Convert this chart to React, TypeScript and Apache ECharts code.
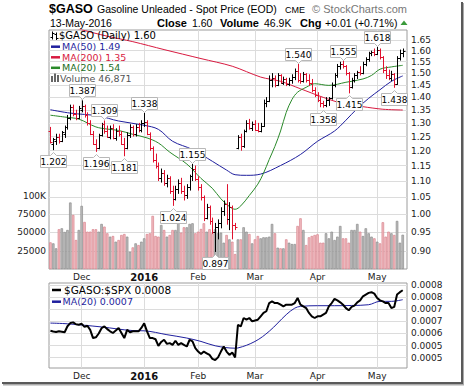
import React, { useEffect, useRef } from "react";
import * as echarts from "echarts";

// ---------- categories ----------
const HOLIDAYS = ["2015-11-26", "2015-12-25", "2016-01-01", "2016-01-18", "2016-02-15", "2016-03-25"];
function tradingDates(start: string, end: string): string[] {
  const out: string[] = [];
  const d = new Date(start + "T00:00:00Z");
  const e = new Date(end + "T00:00:00Z");
  while (d <= e) {
    const wd = d.getUTCDay();
    const s = d.toISOString().slice(0, 10);
    if (wd !== 0 && wd !== 6 && !HOLIDAYS.includes(s)) out.push(s);
    d.setUTCDate(d.getUTCDate() + 1);
  }
  return out;
}
const DATES = [...tradingDates("2015-11-13", "2016-05-13"), ""];
const MONTH_STARTS = ["2015-12-01", "2016-01-04", "2016-02-01", "2016-03-01", "2016-04-01", "2016-05-02"];
const MONTH_LABELS = ["Dec", "2016", "Feb", "Mar", "Apr", "May"];

// ---------- price (OHLC) ----------
const OPEN = [1.27,1.225,1.235,1.25,1.235,1.26,1.285,1.32,1.36,1.335,1.32,1.35,1.365,1.33,1.30,1.26,1.225,1.21,1.255,1.295,
  1.27,1.25,1.28,1.245,1.27,1.26,1.225,1.21,1.255,1.285,1.26,1.285,1.275,1.30,1.305,1.26,1.21,1.17,1.15,1.11,
  1.125,1.095,1.11,1.07,1.045,1.075,1.095,1.07,1.055,1.08,1.115,1.14,1.105,1.08,1.05,0.99,1.02,0.98,0.95,0.965,
  0.975,1.01,1.03,0.985,1.02,0.97,1.21,1.25,1.215,1.27,1.30,1.28,1.295,1.275,1.27,1.29,1.375,1.385,1.47,1.48,
  1.45,1.49,1.46,1.475,1.455,1.47,1.485,1.51,1.47,1.465,1.495,1.47,1.46,1.43,1.41,1.39,1.375,1.37,1.39,1.395,
  1.45,1.49,1.53,1.54,1.53,1.50,1.44,1.47,1.49,1.505,1.50,1.54,1.56,1.59,1.595,1.585,1.605,1.57,1.515,1.49,
  1.48,1.495,1.455,1.565,1.59];
const HIGH = [1.285,1.245,1.26,1.26,1.27,1.29,1.33,1.37,1.37,1.35,1.365,1.387,1.37,1.34,1.31,1.27,1.24,1.26,1.30,1.309,
  1.29,1.29,1.295,1.28,1.29,1.27,1.245,1.265,1.295,1.29,1.295,1.30,1.31,1.338,1.31,1.265,1.215,1.19,1.16,1.14,
  1.135,1.12,1.115,1.085,1.085,1.105,1.11,1.085,1.09,1.12,1.155,1.15,1.115,1.09,1.055,1.03,1.025,0.99,0.975,0.985,
  1.02,1.04,1.09,1.035,1.025,0.975,1.255,1.26,1.275,1.31,1.315,1.305,1.31,1.30,1.30,1.39,1.40,1.49,1.50,1.49,
  1.50,1.495,1.485,1.48,1.48,1.495,1.52,1.54,1.50,1.505,1.50,1.495,1.475,1.44,1.42,1.40,1.385,1.40,1.40,1.46,
  1.50,1.54,1.55,1.555,1.535,1.505,1.48,1.50,1.51,1.53,1.55,1.57,1.595,1.60,1.61,1.618,1.61,1.575,1.53,1.515,
  1.51,1.50,1.575,1.605,1.61];
const LOW = [1.225,1.202,1.22,1.225,1.23,1.245,1.275,1.31,1.325,1.31,1.315,1.34,1.32,1.29,1.255,1.22,1.196,1.205,1.25,1.26,
  1.245,1.24,1.24,1.235,1.25,1.22,1.181,1.205,1.245,1.25,1.25,1.265,1.265,1.285,1.255,1.20,1.16,1.14,1.10,1.095,
  1.085,1.08,1.06,1.024,1.04,1.06,1.06,1.04,1.045,1.07,1.10,1.10,1.07,1.04,0.98,0.985,0.97,0.945,0.897,0.93,
  0.96,0.995,0.97,0.955,0.93,0.955,1.205,1.20,1.21,1.265,1.275,1.27,1.27,1.265,1.265,1.285,1.36,1.38,1.44,1.44,
  1.445,1.455,1.45,1.445,1.445,1.455,1.47,1.46,1.455,1.46,1.46,1.445,1.42,1.40,1.38,1.36,1.358,1.36,1.365,1.39,
  1.44,1.48,1.515,1.52,1.49,1.415,1.435,1.46,1.475,1.49,1.495,1.53,1.55,1.575,1.575,1.58,1.56,1.50,1.475,1.47,
  1.465,1.438,1.45,1.555,1.57];
const CLOSE = [1.23,1.24,1.25,1.235,1.265,1.285,1.32,1.36,1.335,1.32,1.355,1.365,1.33,1.30,1.26,1.225,1.21,1.255,1.295,1.27,
  1.25,1.28,1.245,1.27,1.26,1.225,1.21,1.255,1.285,1.26,1.285,1.275,1.30,1.305,1.26,1.21,1.17,1.15,1.11,1.125,
  1.095,1.11,1.07,1.045,1.075,1.095,1.07,1.055,1.08,1.115,1.14,1.105,1.08,1.05,0.99,1.02,0.98,0.95,0.965,0.975,
  1.01,1.03,0.985,1.02,0.97,0.965,1.25,1.215,1.27,1.30,1.28,1.295,1.275,1.27,1.29,1.375,1.385,1.47,1.48,1.45,
  1.49,1.46,1.475,1.455,1.47,1.485,1.51,1.47,1.465,1.495,1.47,1.46,1.43,1.41,1.39,1.375,1.37,1.39,1.395,1.45,
  1.49,1.53,1.54,1.53,1.50,1.44,1.47,1.49,1.505,1.50,1.54,1.56,1.59,1.595,1.585,1.605,1.57,1.515,1.49,1.48,
  1.495,1.455,1.565,1.59,1.60];
const VOLUME = [36500,35100,28300,54400,55700,50700,53400,91000,74000,39700,
  53400,86400,64400,51100,51100,54400,54400,51100,61700,58000,
  48900,44300,45200,37400,39700,46600,47900,44300,23700,29600,
  35100,32800,37400,42000,47900,48900,72700,45200,44300,60300,
  53400,44300,46600,53400,53400,74000,49800,57100,57100,61700,
  62600,48900,51100,54800,62600,51100,54400,48900,54400,48900,
  49800,36000,46600,40600,37400,20500,40600,40600,57100,51100,
  47900,35100,40600,45200,42000,43400,43400,44300,61700,48900,
  29200,28300,28300,40600,36000,34200,34200,58900,69400,53400,
  32800,43400,45200,46600,47500,36000,36000,48900,42000,51100,
  39700,44300,58900,42000,42000,36000,53400,53400,61700,51100,
  45200,55700,48900,44300,42000,37400,35100,64000,44300,51100,
  48900,46600,65800,36000,46871];

// moving averages: [bar index, value]
const MA50 = [[0,1.350],[7,1.337],[17,1.326],[24,1.307],[33,1.291],[38,1.276],[43,1.233],[50,1.204],[57,1.164],[62,1.135],
  [65,1.120],[69,1.118],[74,1.122],[81,1.150],[88,1.187],[94,1.233],[100,1.27],[104,1.31],[108,1.355],[112,1.395],
  [116,1.43],[120,1.465],[124,1.488]];
const MA200 = [[0,1.745],[10,1.703],[20,1.668],[29,1.642],[40,1.605],[53,1.564],[64,1.530],[74,1.483],[81,1.465],[88,1.434],
  [96,1.399],[103,1.374],[110,1.362],[117,1.352],[124,1.349]];
const MA20 = [[0,1.329],[5,1.322],[10,1.314],[16,1.285],[20,1.277],[24,1.272],[29,1.258],[34,1.245],[38,1.227],[42,1.195],
  [48,1.155],[53,1.108],[57,1.077],[60,1.045],[63,1.022],[65,1.014],[67,1.024],[70,1.055],[73,1.09],[75,1.125],
  [77,1.17],[79,1.215],[81,1.27],[83,1.34],[85,1.39],[87,1.42],[90,1.44],[93,1.455],[98,1.448],[104,1.461],
  [110,1.475],[113,1.49],[116,1.517],[120,1.527],[124,1.534]];

// annotated highs / lows: [bar index, value, 1 = high / 0 = low]
const MARKS = [[11,1.387,1],[19,1.309,1],[33,1.338,1],[50,1.155,1],[87,1.540,1],[103,1.555,1],[115,1.618,1],
  [1,1.202,0],[16,1.196,0],[26,1.181,0],[43,1.024,0],[58,0.897,0],[96,1.358,0],[105,1.415,0],[121,1.438,0]];

// ---------- ratio panel ----------
const RATIO = [0.000611,0.000608,0.000606,0.000609,0.000607,0.000605,0.00063,0.000643,0.000646,0.000638,
  0.000636,0.00064,0.000627,0.000632,0.000615,0.000581,0.000584,0.0006,0.000622,0.000629,
  0.000618,0.000609,0.000602,0.000612,0.000623,0.000602,0.000581,0.000615,0.000605,0.000609,
  0.000609,0.000609,0.000623,0.000642,0.000609,0.000581,0.000581,0.000576,0.000549,0.000565,
  0.000574,0.000557,0.00056,0.000553,0.00057,0.000553,0.00056,0.000553,0.000546,0.000574,
  0.000567,0.000539,0.000525,0.000515,0.000525,0.000518,0.000511,0.000495,0.00049,0.000501,
  0.000525,0.000546,0.000525,0.000511,0.000521,0.000501,0.000636,0.000629,0.000664,0.000657,
  0.000664,0.00065,0.000654,0.000657,0.000671,0.000685,0.000692,0.000726,0.000733,0.000726,
  0.000726,0.000719,0.000712,0.000719,0.000719,0.000719,0.000726,0.000747,0.000719,0.000712,
  0.000705,0.000685,0.000671,0.000664,0.000671,0.000671,0.000678,0.000685,0.000712,0.000726,
  0.000743,0.000737,0.000729,0.000719,0.000705,0.000696,0.00071,0.000715,0.000729,0.000737,
  0.000754,0.000761,0.000768,0.000771,0.000765,0.000747,0.000737,0.000733,0.000726,0.000726,
  0.000705,0.00071,0.000761,0.000771,0.000779];
const RATIO_MA20 = [[0,0.000643],[6,0.00064],[18,0.000627],[29,0.000612],[33,0.000611],[41,0.000595],[48,0.000581],
  [53,0.000567],[58,0.000549],[65,0.000539],[66,0.00054],[72,0.000567],[77,0.000609],[83,0.000678],[86,0.000705],
  [88,0.000712],[94,0.000715],[100,0.000715],[106,0.000716],[112,0.000719],[116,0.000733],[120,0.000733],[124,0.00074]];

// ---------- ticks ----------
const PRICE_TICKS = [0.9,0.95,1.0,1.05,1.1,1.15,1.2,1.25,1.3,1.35,1.4,1.45,1.5,1.55,1.6,1.65];
const PRICE_TICK_LABELS = ["0.90","0.95","1.00","1.05","1.10","1.15","1.20","1.25","1.30","1.35","1.40","1.45","1.50","1.55","1.60","1.65"];
const VOLUME_TICKS = [25000, 50000, 75000, 100000];
const VOLUME_TICK_LABELS = ["25000", "50000", "75000", "100K"];
const RATIO_TICKS = [0.0005, 0.00055, 0.0006, 0.00065, 0.0007, 0.00075, 0.0008];
const RATIO_TICK_LABELS = ["0.0005", "0.0005", "0.0006", "0.0007", "0.0007", "0.0008", "0.0008"];

const PRICE_MIN = 0.854, PRICE_MAX = 1.698;
const VOLUME_MAX = 327000;
const RATIO_MIN = 0.000457, RATIO_MAX = 0.000809;

const RED = "#e0122f";
const BLUE = "#1f1f9e";
const GREEN = "#2a8a2a";
const MA200C = "#d81a40";
const FONT = "DejaVu Sans";
const HFONT = "Liberation Sans";

function pick(ticks: number[], labels: string[], v: number, tol: number) {
  const k = ticks.findIndex((t) => Math.abs(t - v) < tol);
  return k >= 0 ? labels[k] : "";
}

function makeOption(): any {
  const ln = Math.log;
  const isUp = (i: number) => (i === 0 ? CLOSE[0] >= OPEN[0] : CLOSE[i] >= CLOSE[i - 1]);
  const lnTicks = PRICE_TICKS.map(ln);
  const monthInterval = (_i: number, v: string) => MONTH_STARTS.includes(v);
  const monthFmt = (v: string) => {
    const k = MONTH_STARTS.indexOf(v);
    if (k < 0) return "";
    return k === 1 ? "{b|" + MONTH_LABELS[k] + "}" : MONTH_LABELS[k];
  };
  const mkX = (g: number) => ({
    type: "category",
    gridIndex: g,
    data: DATES,
    boundaryGap: true,
    axisLine: { show: false },
    axisTick: { show: false },
    axisLabel: {
      interval: monthInterval,
      formatter: monthFmt,
      margin: 3,
      fontSize: 9,
      fontFamily: FONT,
      color: "#222",
      rich: { b: { fontWeight: "bold", fontSize: 10, fontFamily: FONT, color: "#111" } },
    },
    splitLine: { show: true, interval: monthInterval, alignWithLabel: true, lineStyle: { color: "#dcdcdc", width: 1 } },
  });

  const ohlcData = CLOSE.map((c, i) => [i, ln(OPEN[i]), ln(HIGH[i]), ln(LOW[i]), ln(c), isUp(i) ? 1 : 0]);
  const volData = VOLUME.map((v, i) => ({
    value: v,
    itemStyle: isUp(i)
      ? { color: "#bcbcbc", borderColor: "#8c8c8c", borderWidth: 0.7 }
      : { color: "#f2bcc1", borderColor: "#d9848e", borderWidth: 0.7 },
  }));
  const lnPairs = (arr: number[][]) => arr.map((p) => [p[0], ln(p[1])]);

  return {
    animation: false,
    backgroundColor: "#fff",
    textStyle: { fontFamily: FONT },
    grid: [
      { left: 49, top: 30, width: 358, height: 239, show: true, borderColor: "#9c9c9c", borderWidth: 1, backgroundColor: "#fff" },
      { left: 49, top: 283, width: 358, height: 85, show: true, borderColor: "#9c9c9c", borderWidth: 1, backgroundColor: "#fff" },
    ],
    xAxis: [mkX(0), mkX(1)],
    yAxis: [
      {
        type: "value", gridIndex: 0, position: "right", min: ln(PRICE_MIN), max: ln(PRICE_MAX),
        axisLine: { show: false },
        axisTick: { show: false, customValues: lnTicks },
        axisLabel: {
          customValues: lnTicks, margin: 4, fontSize: 9, fontFamily: FONT, color: "#222",
          formatter: (v: number) => pick(lnTicks, PRICE_TICK_LABELS, v, 1e-6),
        },
        splitLine: { show: true, lineStyle: { color: "#dcdcdc", width: 1 } },
      },
      {
        type: "value", gridIndex: 0, position: "left", min: 0, max: VOLUME_MAX,
        axisLine: { show: false },
        axisTick: { show: false, customValues: VOLUME_TICKS },
        axisLabel: {
          customValues: VOLUME_TICKS, margin: 3, fontSize: 9, fontFamily: FONT, color: "#222",
          formatter: (v: number) => pick(VOLUME_TICKS, VOLUME_TICK_LABELS, v, 1),
        },
        splitLine: { show: false },
      },
      {
        type: "value", gridIndex: 1, position: "right", min: RATIO_MIN, max: RATIO_MAX,
        axisLine: { show: false },
        axisTick: { show: false, customValues: RATIO_TICKS },
        axisLabel: {
          customValues: RATIO_TICKS, margin: 4, fontSize: 9, fontFamily: FONT, color: "#222",
          formatter: (v: number) => pick(RATIO_TICKS, RATIO_TICK_LABELS, v, 1e-9),
        },
        splitLine: { show: true, lineStyle: { color: "#dcdcdc", width: 1 } },
      },
    ],
    series: [
      {
        type: "bar", name: "Volume", xAxisIndex: 0, yAxisIndex: 1, data: volData,
        barCategoryGap: "12%", z: 1, silent: true,
      },
      {
        type: "line", name: "MA(200)", xAxisIndex: 0, yAxisIndex: 0, data: lnPairs(MA200),
        showSymbol: false, smooth: 0.3, lineStyle: { color: MA200C, width: 1 }, z: 3,
      },
      {
        type: "line", name: "MA(50)", xAxisIndex: 0, yAxisIndex: 0, data: lnPairs(MA50),
        showSymbol: false, smooth: 0.35, lineStyle: { color: BLUE, width: 1 }, z: 3,
      },
      {
        type: "line", name: "MA(20)", xAxisIndex: 0, yAxisIndex: 0, data: lnPairs(MA20),
        showSymbol: false, smooth: 0.35, lineStyle: { color: GREEN, width: 1 }, z: 3,
      },
      {
        type: "custom", name: "$GASO", xAxisIndex: 0, yAxisIndex: 0, data: ohlcData, z: 4,
        encode: { x: 0, y: [1, 2, 3, 4] },
        renderItem: (_p: any, api: any) => {
          const i = api.value(0);
          const o = api.coord([i, api.value(1)]);
          const h = api.coord([i, api.value(2)]);
          const l = api.coord([i, api.value(3)]);
          const c = api.coord([i, api.value(4)]);
          const color = api.value(5) > 0 ? "#000" : RED;
          const x = Math.round(o[0]) + 0.5;
          const oy = Math.round(o[1]) + 0.5;
          const cy = Math.round(c[1]) + 0.5;
          const st = { stroke: color, lineWidth: 1 };
          return {
            type: "group",
            children: [
              { type: "line", shape: { x1: x, y1: h[1], x2: x, y2: l[1] }, style: st },
              { type: "line", shape: { x1: x - 2, y1: oy, x2: x, y2: oy }, style: st },
              { type: "line", shape: { x1: x, y1: cy, x2: x + 2, y2: cy }, style: st },
            ],
          };
        },
      },
      {
        type: "custom", name: "marks", xAxisIndex: 0, yAxisIndex: 0, z: 6,
        data: MARKS.map((m) => [m[0], ln(m[1]), m[2]]),
        encode: { x: 0, y: 1 },
        renderItem: (params: any, api: any) => {
          const p = api.coord([api.value(0), api.value(1)]);
          const hi = api.value(2) > 0;
          const label = MARKS[params.dataIndex][1].toFixed(3);
          const w = 26, hgt = 12;
          const cx = Math.round(p[0]) + 0.5;
          let top: number;
          let pts: number[][];
          if (hi) {
            const bottom = Math.round(p[1]) - 3.5;
            top = bottom - hgt;
            pts = [[cx - w / 2, top], [cx + w / 2, top], [cx + w / 2, bottom], [cx + 3, bottom], [cx, bottom + 3], [cx - 3, bottom], [cx - w / 2, bottom]];
          } else {
            top = Math.round(p[1]) + 5.5;
            const bottom = top + hgt;
            pts = [[cx - w / 2, top], [cx - 3, top], [cx, top - 3], [cx + 3, top], [cx + w / 2, top], [cx + w / 2, bottom], [cx - w / 2, bottom]];
          }
          return {
            type: "group",
            children: [
              { type: "polygon", shape: { points: pts }, style: { fill: "#fff", stroke: "#b8b8b8", lineWidth: 1 } },
              {
                type: "text",
                style: { text: label, x: cx, y: top + hgt / 2 + 0.5, align: "center", verticalAlign: "middle", fontSize: 9, fontFamily: FONT, fill: "#000" },
              },
            ],
          };
        },
      },
      {
        type: "line", name: "$GASO:$SPX", xAxisIndex: 1, yAxisIndex: 2, data: RATIO,
        showSymbol: false, lineStyle: { color: "#000", width: 2 }, z: 4,
      },
      {
        type: "line", name: "MA(20) ratio", xAxisIndex: 1, yAxisIndex: 2, data: RATIO_MA20,
        showSymbol: false, smooth: 0.35, lineStyle: { color: BLUE, width: 1 }, z: 3,
      },
    ],
    graphic: buildGraphic(),
  };
}

function txt(x: number, y: number, text: string, opts: any = {}) {
  return {
    type: "text", x, y, z: 60,
    style: {
      text, align: opts.align || "left", verticalAlign: "middle",
      fontSize: opts.size || 9, fontFamily: opts.family || FONT, fontWeight: opts.weight || "normal",
      fill: opts.color || "#000",
    },
  };
}
function hline(x1: number, x2: number, y: number, color: string, w: number) {
  return { type: "line", z: 60, shape: { x1, y1: y, x2, y2: y }, style: { stroke: color, lineWidth: w } };
}
function vline(x: number, y1: number, y2: number, color: string, w: number) {
  return { type: "line", z: 60, shape: { x1: x, y1, x2: x, y2 }, style: { stroke: color, lineWidth: w } };
}
function box(x: number, y: number, w: number, h: number, fill: string, z = 55) {
  return { type: "rect", z, shape: { x, y, width: w, height: h }, style: { fill } };
}

function buildGraphic(): any[] {
  const g: any[] = [];
  // header
  g.push(txt(49, 9, "$GASO", { size: 12.5, weight: "bold", family: HFONT }));
  g.push(txt(97, 9, "Gasoline Unleaded - Spot Price (EOD)", { size: 10.5, family: HFONT }));
  g.push(txt(285, 9.5, "CME", { size: 9, family: HFONT }));
  g.push(txt(407, 9, "© StockCharts.com", { size: 11, family: HFONT, color: "#777", align: "right" }));
  g.push(txt(50, 22.5, "13-May-2016", { size: 10.5, family: HFONT }));
  g.push(txt(157, 22.5, "Close", { size: 11, weight: "bold", family: HFONT }));
  g.push(txt(192, 22.5, "1.60", { size: 10.5, family: HFONT }));
  g.push(txt(220, 22.5, "Volume", { size: 11, weight: "bold", family: HFONT }));
  g.push(txt(264, 22.5, "46.9K", { size: 10.5, family: HFONT }));
  g.push(txt(300, 22.5, "Chg", { size: 11, weight: "bold", family: HFONT }));
  g.push(txt(325, 22.5, "+0.01 (+0.71%)", { size: 10.5, family: HFONT }));
  g.push({ type: "polygon", z: 60, shape: { points: [[400.5, 25], [404, 20.5], [407.5, 25]] }, style: { fill: "#3a9a3a" } });

  // main legend
  g.push(box(49.5, 30.5, 84, 52));
  // ohlc icon
  g.push(vline(52.5, 31.5, 39.5, "#000", 1), hline(50.5, 52.5, 37.5, "#000", 1), hline(52.5, 54.5, 33.5, "#000", 1));
  g.push(vline(56.5, 32.5, 40, "#000", 1), hline(54.5, 56.5, 34.5, "#000", 1), hline(56.5, 58.5, 38.5, "#000", 1));
  g.push(txt(59, 35.7, "$GASO (Daily) 1.60", { size: 10 }));
  g.push(hline(51, 60, 46.7, BLUE, 2.5), txt(62, 46.7, "MA(50) 1.49", { size: 9.5, color: BLUE }));
  g.push(hline(51, 60, 57.3, MA200C, 2.5), txt(62, 57.3, "MA(200) 1.35", { size: 9.5, color: MA200C }));
  g.push(hline(51, 60, 67.8, GREEN, 2.5), txt(62, 67.8, "MA(20) 1.54", { size: 9.5, color: "#1c6e1c" }));
  g.push(box(51, 76, 2, 6, "#666", 60), box(54, 73.5, 2, 8.5, "#666", 60), box(57, 75, 2, 7, "#666", 60));
  g.push(txt(60, 78, "Volume 46,871", { size: 9.5, color: "#555" }));

  // lower legend
  g.push(box(49.5, 283.5, 130, 12), box(49.5, 295.5, 82, 11.5));
  g.push(hline(52, 61, 290, "#000", 2.5), txt(64, 290, "$GASO:$SPX 0.0008", { size: 10.5 }));
  g.push(hline(52, 61, 301.7, BLUE, 2.5), txt(62.5, 301.7, "MA(20) 0.0007", { size: 9.5, color: BLUE }));

  // frame shadow
  g.push(box(461, 2, 2, 382, "#5a5a5a", 70), box(463, 3, 1, 382, "#aaaaaa", 70));
  g.push(box(2, 382, 461, 2, "#5a5a5a", 70), box(3, 384, 461, 1.5, "#aaaaaa", 70));
  return g;
}

export default function App() {
  const ref = useRef<HTMLDivElement>(null);
  useEffect(() => {
    if (!ref.current) return;
    const chart = echarts.init(ref.current, undefined, { renderer: "svg" });
    chart.setOption(makeOption());
    return () => chart.dispose();
  }, []);
  return <div ref={ref} style={{ position: "fixed", left: 0, top: 0, width: 464, height: 387, background: "#fff" }} />;
}
